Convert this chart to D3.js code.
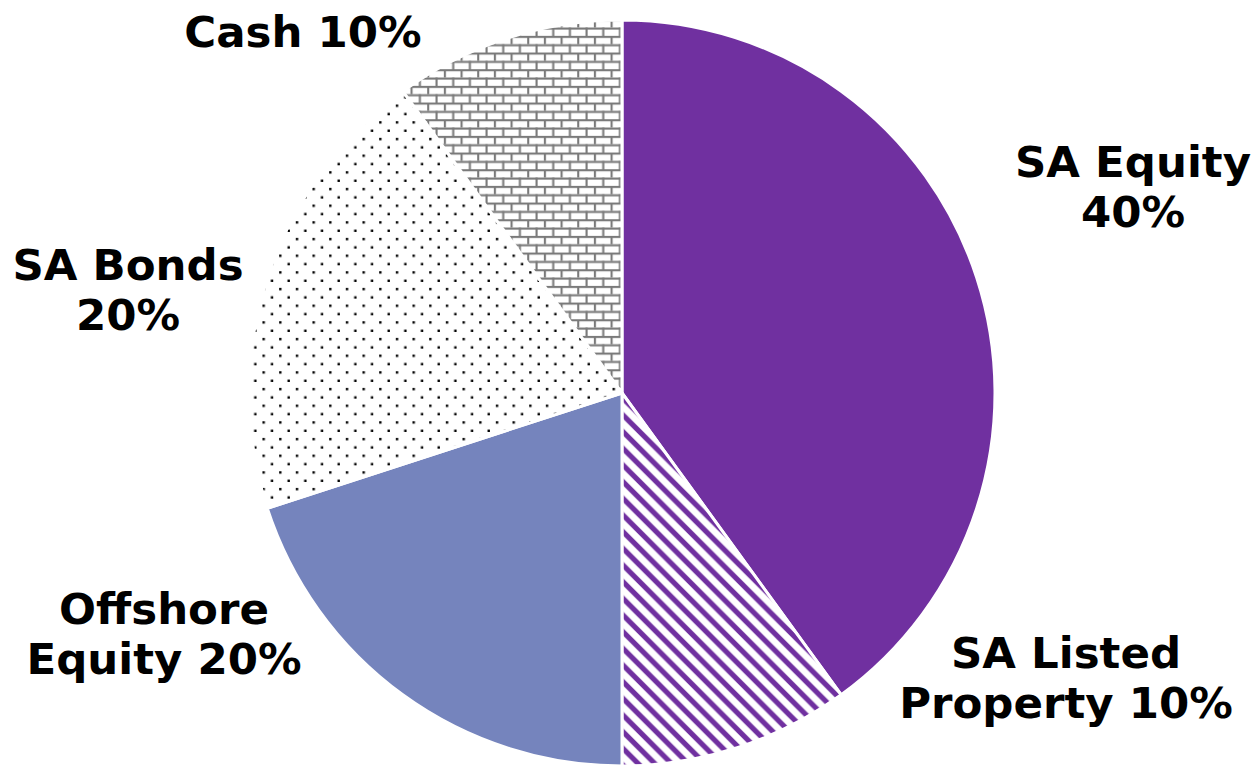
<!DOCTYPE html>
<html>
<head>
<meta charset="utf-8">
<script src="https://cdn.jsdelivr.net/npm/d3@7"></script>
<style>
  html, body { margin: 0; padding: 0; background: #ffffff; }
  svg { display: block; }
  text { font-family: Verdana, "DejaVu Sans", sans-serif; font-weight: bold; fill: #000; }
</style>
</head>
<body>
<svg id="chart" width="1254" height="766"></svg>
<script>
// ---- data ----
const categories = ["SA Equity", "SA Listed Property", "Offshore Equity", "SA Bonds", "Cash"];
const values = [40, 10, 20, 20, 10];
const labelLines = [
  ["SA Equity", "40%"],
  ["SA Listed", "Property 10%"],
  ["Offshore", "Equity 20%"],
  ["SA Bonds", "20%"],
  ["Cash 10%"]
];

// ---- layout / style ----
const W = 1254, H = 766;
const cx = 622, cy = 393, R = 373;
const fills = ["#7030A0", "url(#stripes)", "#7584BD", "url(#dots)", "url(#bricks)"];
const labelPos = [
  { x: 1133, y: 177 },
  { x: 1066, y: 668 },
  { x: 164, y: 624 },
  { x: 128, y: 280 },
  { x: 303, y: 47 }
];
const lineH = 50;
const fontSize = 43.5;
const T = 16.67;

const svg = d3.select("#chart");
const defs = svg.append("defs");

// stripes (wide downward diagonal, purple on white)
const ps = defs.append("pattern").attr("id", "stripes")
  .attr("patternUnits", "userSpaceOnUse").attr("width", T).attr("height", T)
  .attr("x", cx).attr("y", cy);
ps.append("rect").attr("width", T).attr("height", T).attr("fill", "#fff");
ps.append("path")
  .attr("d", `M${-T/2},${-T/2} L${T*1.5},${T*1.5} M${-T*1.5},${T*0.5 - T} L${T*0.5},${T*1.5} M${T*0.5 - T},${-T*1.5} L${T*1.5},${T*0.5}`)
  .attr("stroke", "#7030A0").attr("stroke-width", 5.2).attr("fill", "none");

// dots (5%)
const pd = defs.append("pattern").attr("id", "dots")
  .attr("patternUnits", "userSpaceOnUse").attr("width", T).attr("height", T)
  .attr("x", cx).attr("y", cy);
pd.append("rect").attr("width", T).attr("height", T).attr("fill", "#fff");
pd.append("rect").attr("x", 2).attr("y", 2).attr("width", 2.4).attr("height", 2.4).attr("fill", "#000");
pd.append("rect").attr("x", 2 + T / 2).attr("y", 2 + T / 2).attr("width", 2.4).attr("height", 2.4).attr("fill", "#000");

// bricks (horizontal brick, grey on white)
const pb = defs.append("pattern").attr("id", "bricks")
  .attr("patternUnits", "userSpaceOnUse").attr("width", T).attr("height", T)
  .attr("x", cx).attr("y", cy);
pb.append("rect").attr("width", T).attr("height", T).attr("fill", "#fff");
const bc = "#7a7a7a", bw = 2.1;
pb.append("rect").attr("x", 0).attr("y", 0).attr("width", T).attr("height", bw).attr("fill", bc);
pb.append("rect").attr("x", 0).attr("y", T / 2).attr("width", T).attr("height", bw).attr("fill", bc);
pb.append("rect").attr("x", 0).attr("y", 0).attr("width", bw).attr("height", T / 2).attr("fill", bc);
pb.append("rect").attr("x", T / 2).attr("y", T / 2).attr("width", bw).attr("height", T / 2).attr("fill", bc);

// ---- pie ----
const pie = d3.pie().sort(null).value(d => d)(values);
const arc = d3.arc().innerRadius(0).outerRadius(R);

const g = svg.append("g").attr("transform", `translate(${cx},${cy})`);
g.selectAll("path.slice").data(pie).join("path")
  .attr("class", "slice")
  .attr("d", arc)
  .attr("fill", (d, i) => fills[i])
  .attr("stroke", "#fff")
  .attr("stroke-width", 3)
  .attr("stroke-linejoin", "round");

// ---- labels ----
const lg = svg.append("g");
labelLines.forEach((lines, i) => {
  const t = lg.append("text")
    .attr("x", labelPos[i].x).attr("y", labelPos[i].y)
    .attr("text-anchor", "middle")
    .attr("font-size", fontSize);
  lines.forEach((ln, j) => {
    t.append("tspan").attr("x", labelPos[i].x).attr("dy", j === 0 ? 0 : lineH).text(ln);
  });
});
</script>
</body>
</html>
